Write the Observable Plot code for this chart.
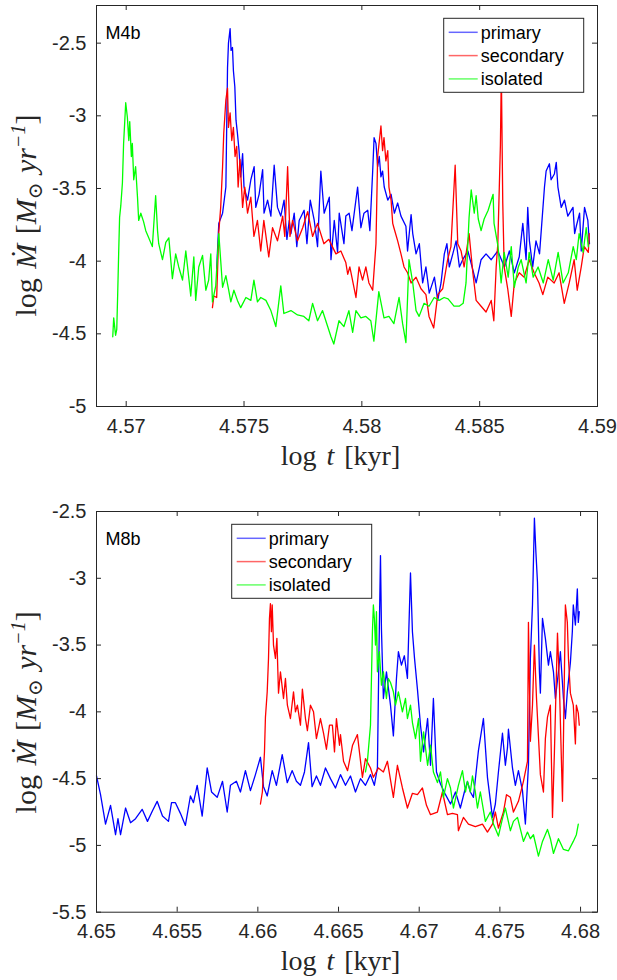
<!DOCTYPE html>
<html>
<head>
<meta charset="utf-8">
<script src="https://cdn.jsdelivr.net/npm/d3@7"></script>
<script src="https://cdn.jsdelivr.net/npm/@observablehq/plot@0.6"></script>
<style>
  html, body { margin: 0; padding: 0; background: white; }
  svg { display: block; }
</style>
</head>
<body>
<div id="chart"></div>
<script>
// ---------- data: [log t (kyr), log Mdot] ----------
const seriesNames = ["primary", "secondary", "isolated"];
const seriesColors = ["#0000ff", "#ff0000", "#00ff00"];

const m4bPrimary = [[4.57384,-4.05],[4.57393,-3.74],[4.57409,-3.67],[4.57423,-3.49],[4.57430,-2.67],[4.57434,-2.50],[4.57441,-2.40],[4.57445,-2.55],[4.57451,-2.53],[4.57455,-2.69],[4.57461,-2.80],[4.57466,-3.03],[4.57472,-3.12],[4.57479,-3.24],[4.57486,-3.42],[4.57494,-3.26],[4.57500,-3.49],[4.57515,-3.58],[4.57529,-3.44],[4.57543,-3.35],[4.57550,-3.63],[4.57564,-3.54],[4.57579,-3.37],[4.57585,-3.67],[4.57600,-3.58],[4.57614,-3.69],[4.57628,-3.34],[4.57642,-3.63],[4.57656,-3.69],[4.57670,-3.58],[4.57682,-3.85],[4.57692,-3.72],[4.57699,-3.81],[4.57713,-3.67],[4.57724,-3.90],[4.57734,-3.72],[4.57755,-3.65],[4.57767,-3.88],[4.57781,-3.58],[4.57798,-3.72],[4.57812,-3.90],[4.57826,-3.38],[4.57840,-3.67],[4.57862,-3.56],[4.57869,-3.99],[4.57883,-3.72],[4.57897,-3.94],[4.57904,-3.67],[4.57924,-3.88],[4.57932,-3.69],[4.57946,-3.67],[4.57958,-3.79],[4.57982,-3.49],[4.57996,-3.77],[4.58009,-3.67],[4.58025,-3.65],[4.58034,-3.79],[4.58046,-3.38],[4.58052,-3.15],[4.58060,-3.19],[4.58067,-3.35],[4.58074,-3.28],[4.58081,-3.42],[4.58088,-3.38],[4.58095,-3.49],[4.58110,-3.58],[4.58124,-3.54],[4.58138,-3.67],[4.58152,-3.60],[4.58166,-3.69],[4.58187,-3.76],[4.58194,-3.93],[4.58209,-3.68],[4.58216,-3.81],[4.58230,-3.95],[4.58244,-3.88],[4.58258,-4.15],[4.58272,-4.04],[4.58286,-4.22],[4.58308,-4.11],[4.58322,-4.27],[4.58336,-4.15],[4.58350,-3.95],[4.58361,-3.88],[4.58371,-4.04],[4.58386,-3.95],[4.58400,-3.86],[4.58414,-4.04],[4.58428,-3.99],[4.58450,-3.93],[4.58471,-4.06],[4.58485,-4.15],[4.58506,-3.99],[4.58527,-3.95],[4.58549,-3.99],[4.58577,-3.93],[4.58605,-4.04],[4.58626,-3.93],[4.58647,-4.08],[4.58668,-3.97],[4.58683,-3.74],[4.58697,-3.99],[4.58704,-3.63],[4.58711,-3.86],[4.58725,-4.04],[4.58739,-3.86],[4.58754,-3.95],[4.58775,-3.49],[4.58782,-3.38],[4.58796,-3.33],[4.58803,-3.44],[4.58817,-3.40],[4.58825,-3.32],[4.58832,-3.49],[4.58846,-3.63],[4.58860,-3.58],[4.58874,-3.69],[4.58896,-3.63],[4.58903,-3.81],[4.58910,-3.76],[4.58924,-3.67],[4.58931,-3.93],[4.58945,-3.63],[4.58959,-3.72],[4.58966,-3.88]];

const m4bSecondary = [[4.57366,-4.32],[4.57372,-4.24],[4.57384,-4.25],[4.57393,-3.80],[4.57401,-3.63],[4.57409,-3.35],[4.57414,-3.12],[4.57423,-2.89],[4.57430,-2.81],[4.57434,-3.08],[4.57441,-2.98],[4.57448,-3.17],[4.57455,-3.08],[4.57462,-3.28],[4.57469,-3.21],[4.57475,-3.49],[4.57483,-3.30],[4.57494,-3.63],[4.57503,-3.49],[4.57515,-3.67],[4.57529,-3.56],[4.57542,-3.83],[4.57557,-3.72],[4.57571,-3.93],[4.57584,-3.72],[4.57605,-3.97],[4.57621,-3.77],[4.57642,-3.86],[4.57664,-3.69],[4.57673,-3.83],[4.57685,-3.35],[4.57695,-3.83],[4.57706,-3.72],[4.57727,-3.86],[4.57749,-3.77],[4.57770,-3.66],[4.57791,-3.83],[4.57812,-3.74],[4.57839,-3.88],[4.57860,-3.85],[4.57890,-3.95],[4.57911,-3.93],[4.57924,-3.98],[4.57932,-4.01],[4.57940,-4.09],[4.57949,-4.04],[4.57975,-4.25],[4.57988,-4.04],[4.58003,-4.13],[4.58017,-4.04],[4.58030,-4.15],[4.58046,-4.20],[4.58060,-3.88],[4.58067,-3.28],[4.58081,-3.07],[4.58088,-3.24],[4.58094,-3.15],[4.58102,-3.31],[4.58110,-3.24],[4.58115,-3.49],[4.58124,-3.58],[4.58131,-3.74],[4.58136,-3.77],[4.58152,-3.86],[4.58166,-3.95],[4.58179,-4.04],[4.58194,-4.08],[4.58209,-4.15],[4.58230,-4.11],[4.58251,-4.19],[4.58272,-4.23],[4.58285,-4.38],[4.58305,-4.46],[4.58322,-4.23],[4.58343,-4.19],[4.58364,-3.99],[4.58378,-3.90],[4.58396,-3.34],[4.58407,-3.88],[4.58421,-3.93],[4.58434,-4.04],[4.58455,-3.81],[4.58471,-4.08],[4.58485,-4.27],[4.58506,-4.31],[4.58527,-4.35],[4.58549,-4.27],[4.58560,-4.41],[4.58570,-4.04],[4.58577,-3.88],[4.58588,-3.20],[4.58592,-2.70],[4.58598,-3.60],[4.58604,-4.04],[4.58619,-4.19],[4.58634,-4.38],[4.58647,-4.15],[4.58668,-4.08],[4.58689,-4.11],[4.58710,-3.99],[4.58731,-4.08],[4.58752,-4.15],[4.58768,-4.23],[4.58789,-4.11],[4.58816,-4.15],[4.58837,-4.08],[4.58859,-4.29],[4.58880,-4.15],[4.58901,-3.99],[4.58914,-4.20],[4.58931,-4.04],[4.58944,-3.90],[4.58961,-3.94],[4.58965,-3.81]];

const m4bIsolated = [[4.56943,-4.52],[4.56947,-4.39],[4.56955,-4.51],[4.56960,-4.47],[4.56964,-4.22],[4.56968,-3.95],[4.56972,-3.70],[4.56977,-3.62],[4.56984,-3.46],[4.56989,-3.19],[4.56998,-2.91],[4.57005,-3.01],[4.57011,-3.17],[4.57015,-3.04],[4.57022,-3.28],[4.57026,-3.19],[4.57032,-3.44],[4.57040,-3.35],[4.57048,-3.56],[4.57053,-3.72],[4.57062,-3.67],[4.57074,-3.73],[4.57083,-3.79],[4.57096,-3.84],[4.57111,-3.90],[4.57125,-3.55],[4.57133,-3.79],[4.57138,-3.88],[4.57154,-3.99],[4.57168,-3.87],[4.57181,-3.84],[4.57196,-4.12],[4.57210,-3.95],[4.57223,-4.04],[4.57239,-4.13],[4.57253,-3.93],[4.57274,-4.24],[4.57287,-3.97],[4.57295,-4.27],[4.57308,-4.04],[4.57324,-3.96],[4.57338,-4.20],[4.57350,-4.13],[4.57359,-3.95],[4.57366,-4.28],[4.57380,-4.17],[4.57393,-3.81],[4.57409,-4.18],[4.57423,-4.10],[4.57435,-4.20],[4.57444,-4.28],[4.57457,-4.20],[4.57472,-4.27],[4.57486,-4.32],[4.57508,-4.25],[4.57529,-4.27],[4.57542,-4.13],[4.57557,-4.28],[4.57571,-4.25],[4.57593,-4.27],[4.57614,-4.34],[4.57635,-4.45],[4.57656,-4.17],[4.57669,-4.36],[4.57699,-4.34],[4.57727,-4.37],[4.57754,-4.38],[4.57775,-4.41],[4.57791,-4.29],[4.57812,-4.41],[4.57833,-4.34],[4.57855,-4.45],[4.57869,-4.52],[4.57881,-4.57],[4.57903,-4.41],[4.57924,-4.45],[4.57945,-4.34],[4.57961,-4.49],[4.57975,-4.34],[4.57996,-4.39],[4.58017,-4.38],[4.58038,-4.41],[4.58051,-4.55],[4.58072,-4.21],[4.58094,-4.39],[4.58115,-4.38],[4.58136,-4.43],[4.58158,-4.25],[4.58173,-4.43],[4.58187,-4.56],[4.58200,-3.99],[4.58216,-4.15],[4.58230,-4.34],[4.58243,-4.38],[4.58264,-4.29],[4.58285,-4.31],[4.58307,-4.25],[4.58328,-4.27],[4.58349,-4.25],[4.58366,-4.26],[4.58391,-4.31],[4.58413,-4.31],[4.58430,-4.29],[4.58442,-4.15],[4.58455,-3.70],[4.58464,-3.51],[4.58477,-3.67],[4.58485,-3.55],[4.58494,-3.71],[4.58506,-3.79],[4.58519,-3.71],[4.58536,-3.65],[4.58557,-3.54],[4.58561,-3.74],[4.58578,-3.90],[4.58591,-4.15],[4.58604,-3.94],[4.58621,-4.11],[4.58634,-3.90],[4.58647,-4.18],[4.58664,-4.04],[4.58676,-3.99],[4.58697,-4.15],[4.58710,-3.94],[4.58727,-4.11],[4.58748,-4.04],[4.58770,-4.15],[4.58791,-3.99],[4.58812,-4.13],[4.58833,-3.94],[4.58854,-4.15],[4.58876,-4.08],[4.58897,-3.90],[4.58910,-3.99],[4.58922,-3.81],[4.58939,-3.94],[4.58952,-3.77],[4.58961,-3.90]];

const m8bPrimary = [[4.65000,-4.48],[4.65025,-4.62],[4.65056,-4.84],[4.65087,-4.70],[4.65118,-4.92],[4.65133,-4.80],[4.65149,-4.92],[4.65180,-4.72],[4.65211,-4.83],[4.65242,-4.80],[4.65283,-4.73],[4.65316,-4.82],[4.65347,-4.74],[4.65376,-4.67],[4.65409,-4.78],[4.65446,-4.82],[4.65465,-4.68],[4.65489,-4.68],[4.65520,-4.76],[4.65551,-4.85],[4.65582,-4.63],[4.65601,-4.68],[4.65624,-4.55],[4.65655,-4.78],[4.65686,-4.42],[4.65713,-4.60],[4.65748,-4.64],[4.65781,-4.52],[4.65810,-4.75],[4.65830,-4.55],[4.65867,-4.52],[4.65892,-4.60],[4.65923,-4.44],[4.65954,-4.59],[4.65985,-4.47],[4.66016,-4.34],[4.66035,-4.56],[4.66058,-4.63],[4.66089,-4.44],[4.66115,-4.55],[4.66151,-4.32],[4.66182,-4.53],[4.66213,-4.44],[4.66239,-4.52],[4.66264,-4.55],[4.66289,-4.45],[4.66314,-4.23],[4.66336,-4.56],[4.66363,-4.48],[4.66388,-4.55],[4.66419,-4.42],[4.66450,-4.50],[4.66481,-4.57],[4.66512,-4.47],[4.66543,-4.55],[4.66574,-4.48],[4.66605,-4.60],[4.66636,-4.50],[4.66667,-4.55],[4.66698,-4.47],[4.66722,-4.55],[4.66741,-4.42],[4.66750,-3.60],[4.66760,-2.83],[4.66766,-3.38],[4.66778,-3.90],[4.66797,-3.70],[4.66822,-3.95],[4.66840,-4.18],[4.66859,-3.75],[4.66871,-3.55],[4.66890,-3.65],[4.66908,-3.58],[4.66927,-3.75],[4.66946,-2.96],[4.66958,-3.40],[4.66971,-3.60],[4.66989,-3.83],[4.67008,-4.10],[4.67027,-4.30],[4.67052,-4.05],[4.67070,-4.40],[4.67088,-3.90],[4.67107,-4.45],[4.67132,-4.54],[4.67163,-4.62],[4.67194,-4.69],[4.67225,-4.60],[4.67255,-4.72],[4.67280,-4.60],[4.67299,-4.52],[4.67317,-4.60],[4.67336,-4.64],[4.67367,-4.29],[4.67398,-4.05],[4.67423,-4.49],[4.67454,-4.79],[4.67472,-4.69],[4.67491,-4.45],[4.67516,-4.16],[4.67534,-4.40],[4.67547,-4.27],[4.67553,-4.13],[4.67578,-4.42],[4.67596,-4.55],[4.67615,-4.44],[4.67640,-4.59],[4.67658,-4.84],[4.67677,-4.40],[4.67689,-3.60],[4.67702,-3.20],[4.67714,-2.55],[4.67723,-2.80],[4.67733,-3.03],[4.67745,-3.70],[4.67751,-3.86],[4.67764,-3.30],[4.67782,-3.45],[4.67801,-3.65],[4.67813,-3.55],[4.67832,-3.70],[4.67844,-3.90],[4.67863,-3.70],[4.67875,-3.55],[4.67894,-3.90],[4.67906,-4.05],[4.67918,-3.85],[4.67937,-3.63],[4.67949,-3.40],[4.67955,-3.20],[4.67968,-3.35],[4.67980,-3.08],[4.67986,-3.33],[4.67992,-3.25]];

const m8bSecondary = [[4.66016,-4.69],[4.66028,-4.60],[4.66041,-4.30],[4.66047,-4.04],[4.66058,-3.85],[4.66066,-3.60],[4.66072,-3.30],[4.66078,-3.19],[4.66084,-3.40],[4.66089,-3.20],[4.66097,-3.50],[4.66109,-3.60],[4.66118,-3.45],[4.66128,-3.86],[4.66140,-3.70],[4.66159,-3.90],[4.66171,-3.75],[4.66183,-3.95],[4.66202,-4.05],[4.66221,-3.85],[4.66233,-4.00],[4.66245,-3.95],[4.66264,-4.10],[4.66276,-3.83],[4.66295,-4.05],[4.66307,-4.14],[4.66326,-3.95],[4.66345,-4.00],[4.66363,-4.20],[4.66388,-4.05],[4.66407,-4.16],[4.66425,-4.28],[4.66444,-4.10],[4.66462,-4.10],[4.66475,-4.30],[4.66487,-4.05],[4.66506,-4.25],[4.66512,-4.17],[4.66531,-4.37],[4.66556,-4.44],[4.66587,-4.25],[4.66617,-4.17],[4.66648,-4.49],[4.66667,-4.35],[4.66698,-4.42],[4.66716,-4.49],[4.66747,-4.42],[4.66778,-4.45],[4.66803,-4.37],[4.66840,-4.64],[4.66865,-4.40],[4.66896,-4.57],[4.66927,-4.72],[4.66958,-4.61],[4.66989,-4.62],[4.67020,-4.57],[4.67045,-4.70],[4.67070,-4.77],[4.67113,-4.75],[4.67144,-4.60],[4.67175,-4.77],[4.67206,-4.76],[4.67237,-4.77],[4.67243,-4.89],[4.67274,-4.79],[4.67305,-4.84],[4.67348,-4.86],[4.67392,-4.84],[4.67423,-4.90],[4.67454,-4.84],[4.67472,-4.75],[4.67491,-4.87],[4.67522,-4.75],[4.67541,-4.62],[4.67565,-4.64],[4.67584,-4.75],[4.67615,-4.67],[4.67646,-4.52],[4.67671,-4.37],[4.67677,-3.33],[4.67689,-4.22],[4.67702,-3.95],[4.67714,-3.50],[4.67727,-3.90],[4.67751,-4.47],[4.67770,-4.60],[4.67782,-4.20],[4.67795,-4.04],[4.67813,-3.95],[4.67820,-4.40],[4.67826,-4.79],[4.67838,-4.30],[4.67857,-3.41],[4.67869,-3.80],[4.67888,-4.67],[4.67894,-4.20],[4.67906,-3.20],[4.67918,-3.33],[4.67925,-3.60],[4.67937,-3.86],[4.67955,-3.95],[4.67968,-4.24],[4.67974,-3.95],[4.67986,-4.01],[4.67992,-4.10]];

const m8bIsolated = [[4.66667,-4.45],[4.66679,-4.37],[4.66698,-4.10],[4.66710,-3.40],[4.66716,-3.20],[4.66722,-3.30],[4.66729,-3.50],[4.66735,-3.25],[4.66741,-3.70],[4.66753,-3.55],[4.66766,-3.80],[4.66778,-3.70],[4.66797,-3.90],[4.66809,-3.75],[4.66822,-3.78],[4.66840,-3.85],[4.66853,-3.95],[4.66871,-3.85],[4.66896,-4.00],[4.66915,-3.90],[4.66927,-4.05],[4.66946,-3.95],[4.66958,-4.08],[4.66977,-4.20],[4.66996,-4.05],[4.67008,-4.37],[4.67027,-4.15],[4.67052,-4.40],[4.67070,-4.25],[4.67088,-4.45],[4.67113,-4.53],[4.67132,-4.45],[4.67150,-4.64],[4.67175,-4.50],[4.67194,-4.57],[4.67212,-4.72],[4.67243,-4.55],[4.67268,-4.44],[4.67287,-4.60],[4.67299,-4.52],[4.67317,-4.60],[4.67330,-4.48],[4.67348,-4.60],[4.67361,-4.72],[4.67379,-4.60],[4.67410,-4.82],[4.67441,-4.75],[4.67460,-4.84],[4.67491,-4.93],[4.67516,-4.80],[4.67534,-4.72],[4.67565,-4.89],[4.67584,-4.82],[4.67609,-4.79],[4.67646,-4.97],[4.67671,-4.90],[4.67689,-4.95],[4.67708,-4.92],[4.67739,-5.08],[4.67764,-4.97],[4.67795,-4.88],[4.67813,-4.95],[4.67832,-5.06],[4.67863,-4.95],[4.67894,-5.03],[4.67925,-5.04],[4.67955,-4.97],[4.67974,-4.92],[4.67986,-4.84]];

// ticks
const m4bXTicks = [4.57, 4.575, 4.58, 4.585, 4.59];
const m4bYTicks = [-5, -4.5, -4, -3.5, -3, -2.5];
const m8bXTicks = [4.65, 4.655, 4.66, 4.665, 4.67, 4.675, 4.68];
const m8bYTicks = [-5.5, -5, -4.5, -4, -3.5, -3, -2.5];

// ---------- drawing ----------
const W = 617, H = 490, ML = 96, MR = 20;
const axisColor = "#262626";
const sans = "'Liberation Sans', Arial, Helvetica, sans-serif";

function panel({tag, series, xDomain, yDomain, xTicks, yTicks, marginTop, marginBottom, legendPos, yLabelShift, xLabelGap}) {
  const innerW = W - ML - MR;
  const innerH = H - marginTop - marginBottom;
  const toRows = arr => arr.map(([t, m]) => ({t, m}));
  const svg = Plot.plot({
    width: W, height: H,
    marginLeft: ML, marginRight: MR, marginTop, marginBottom,
    x: {domain: xDomain},
    y: {domain: yDomain},
    style: {fontFamily: sans, fontSize: "20px", color: axisColor, background: "white"},
    marks: [
      ...series.map((s, i) => Plot.line(toRows(s), {x: "t", y: "m", stroke: seriesColors[i], strokeWidth: 1.3})),
      Plot.frame({stroke: axisColor, strokeWidth: 1}),
      Plot.tickX(xTicks, {x: d => d, insetTop: innerH - 5, stroke: axisColor}),
      Plot.tickX(xTicks, {x: d => d, insetBottom: innerH - 5, stroke: axisColor}),
      Plot.tickY(yTicks, {y: d => d, insetRight: innerW - 5, stroke: axisColor}),
      Plot.tickY(yTicks, {y: d => d, insetLeft: innerW - 5, stroke: axisColor}),
      Plot.axisX({ticks: xTicks, tickSize: 0, tickPadding: 12, tickFormat: d => String(d), label: null}),
      Plot.axisY({ticks: yTicks, tickSize: 0, tickPadding: 10, tickFormat: d => String(d), label: null}),
      Plot.text([tag], {frameAnchor: "top-left", dx: 9, dy: 33, text: d => d, fontSize: 18, textAnchor: "start", fill: "black", lineAnchor: "bottom"})
    ]
  });
  const s = d3.select(svg);
  // legend
  const [lx, ly] = legendPos;
  const lg = s.append("g").attr("text-anchor", "start").attr("font-family", sans);
  lg.append("rect").attr("x", lx).attr("y", ly).attr("width", 140).attr("height", 74)
    .attr("fill", "white").attr("stroke", axisColor).attr("stroke-width", 1);
  seriesNames.forEach((name, i) => {
    const cy = ly + 14 + i * 23.3;
    lg.append("line").attr("x1", lx + 5).attr("x2", lx + 34).attr("y1", cy).attr("y2", cy)
      .attr("stroke", seriesColors[i]).attr("stroke-width", 1.5).attr("stroke-opacity", 0.6);
    lg.append("text").attr("x", lx + 37).attr("y", cy).attr("dy", "0.36em")
      .attr("text-anchor", "start").attr("font-size", 18).attr("fill", "black").text(name);
  });
  // axis labels (LaTeX-like)
  const serif = "'Liberation Serif', 'DejaVu Serif', 'Times New Roman', serif";
  const xl = s.append("text").attr("x", ML + innerW / 2 - 6).attr("y", H - marginBottom + xLabelGap)
    .attr("text-anchor", "middle").attr("font-family", serif).attr("font-size", 28).attr("fill", axisColor)
    .attr("word-spacing", 3);
  xl.append("tspan").text("log ");
  xl.append("tspan").attr("font-style", "italic").text("t");
  xl.append("tspan").text(" [kyr]");
  const cy = marginTop + innerH / 2 + yLabelShift;
  const yl = s.append("text").attr("transform", `translate(36,${cy}) rotate(-90)`)
    .attr("text-anchor", "middle").attr("font-family", serif).attr("font-size", 30).attr("fill", axisColor)
    .attr("word-spacing", 2);
  yl.append("tspan").text("log ");
  yl.append("tspan").attr("font-style", "italic").text("Ṁ");
  yl.append("tspan").text(" [");
  yl.append("tspan").attr("font-style", "italic").text("M");
  yl.append("tspan").attr("dy", 6).attr("font-size", 20).text("⊙");
  yl.append("tspan").attr("dy", -6).text(" ");
  yl.append("tspan").attr("font-style", "italic").text("yr");
  yl.append("tspan").attr("dy", -11).attr("font-size", 20).attr("font-style", "italic").text("−1");
  yl.append("tspan").attr("dy", 11).text("]");
  return svg;
}

const root = document.getElementById("chart");
root.appendChild(panel({
  tag: "M4b",
  series: [m4bPrimary, m4bSecondary, m4bIsolated],
  xDomain: [4.56874, 4.59], yDomain: [-5, -2.241],
  xTicks: m4bXTicks, yTicks: m4bYTicks,
  marginTop: 5, marginBottom: 84,
  legendPos: [443.7, 18.3], yLabelShift: 10, xLabelGap: 59
}));
root.appendChild(panel({
  tag: "M8b",
  series: [m8bPrimary, m8bSecondary, m8bIsolated],
  xDomain: [4.65, 4.68105], yDomain: [-5.5, -2.5],
  xTicks: m8bXTicks, yTicks: m8bYTicks,
  marginTop: 21, marginBottom: 68.3,
  legendPos: [231.7, 34.3], yLabelShift: 1, xLabelGap: 58
}));
</script>
</body>
</html>
